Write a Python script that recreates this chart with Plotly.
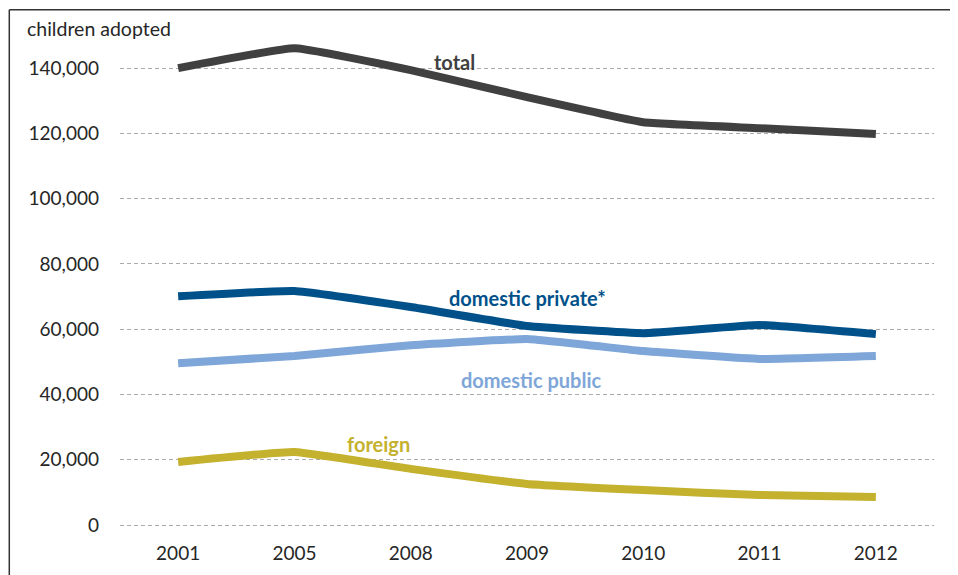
import plotly.graph_objects as go

years = ["2001", "2005", "2008", "2009", "2010", "2011", "2012"]
total = [140000, 146100, 139400, 131100, 123400, 121600, 119800]
domestic_private = [70100, 71700, 66800, 61000, 58800, 61300, 58500]
domestic_public = [49600, 51800, 55100, 57000, 53300, 50900, 51800]
foreign = [19300, 22400, 17200, 12600, 10700, 9200, 8600]

series = [
    ("total", total, "#404040"),
    ("domestic private*", domestic_private, "#00518A"),
    ("domestic public", domestic_public, "#7EA6D8"),
    ("foreign", foreign, "#C4B12E"),
]

FONT = "Lato"

fig = go.Figure()
for name, vals, col in series:
    fig.add_trace(go.Scatter(x=years, y=vals, mode="lines", name=name,
                             line=dict(color=col, width=8, shape="spline", smoothing=0.3),
                             showlegend=False, hoverinfo="x+y"))

labels = [
    ("total", 2.373, 141800, "#404040"),
    ("domestic private*", 3.0, 69500, "#00518A"),
    ("domestic public", 3.035, 44400, "#7EA6D8"),
    ("foreign", 1.72, 24800, "#C4B12E"),
]
annotations = []
for txt, xi, yv, col in labels:
    annotations.append(dict(x=xi, y=yv, xref="x", yref="y", text="<b>%s</b>" % txt,
                            showarrow=False, font=dict(family=FONT, size=20, color=col),
                            xanchor="center", yanchor="middle"))
annotations.append(dict(x=-0.1167, y=1.002, xref="paper", yref="paper", text="children adopted",
                        showarrow=False, font=dict(family=FONT, size=19.5, color="#262626"),
                        xanchor="left", yanchor="middle"))

fig.update_layout(
    width=958, height=575,
    margin=dict(l=112, r=32, t=21, b=56),
    paper_bgcolor="white", plot_bgcolor="white",
    font=dict(family=FONT, size=19, color="#262626"),
    annotations=annotations,
    shapes=[
        dict(type="line", xref="paper", yref="paper", x0=-0.136, x1=1.2, y0=1.0388, y1=1.0388,
             line=dict(color="#333333", width=1.5)),
        dict(type="line", xref="paper", yref="paper", x0=-0.136, x1=-0.136, y0=1.0388, y1=-0.3,
             line=dict(color="#333333", width=1.5)),
    ],
    xaxis=dict(type="category", range=[-0.5, 6.5], showgrid=False, showline=False,
               ticks="", tickfont=dict(family=FONT, size=19, color="#262626"),
               ticklabelstandoff=13),
    yaxis=dict(range=[-600, 152000], tickvals=[0, 20000, 40000, 60000, 80000, 100000, 120000, 140000],
               ticktext=["0", "20,000", "40,000", "60,000", "80,000", "100,000", "120,000", "140,000"],
               showgrid=True, gridcolor="#ABABAB", griddash="4px,3px", gridwidth=1,
               zeroline=False, showline=False, ticks="",
               tickfont=dict(family=FONT, size=19, color="#262626"), ticklabelstandoff=20),
)

fig.write_html("out.html")
